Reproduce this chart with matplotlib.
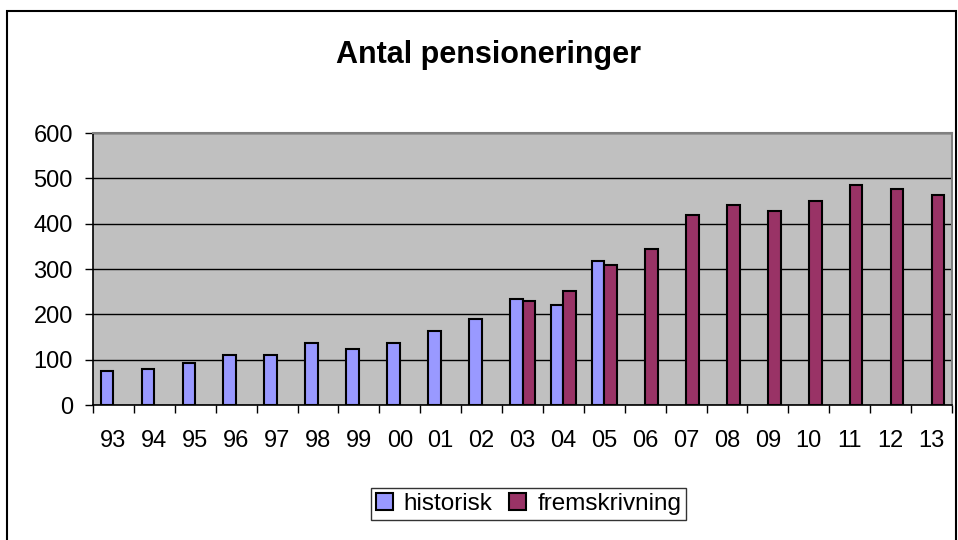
import matplotlib
matplotlib.use("Agg")
import matplotlib.pyplot as plt
import numpy as np
from matplotlib.patches import Rectangle

years = ["93", "94", "95", "96", "97", "98", "99", "00", "01", "02", "03",
         "04", "05", "06", "07", "08", "09", "10", "11", "12", "13"]
historisk = [75, 80, 93, 110, 110, 137, 124, 137, 163, 190, 234, 221, 318,
             None, None, None, None, None, None, None, None]
fremskrivning = [None, None, None, None, None, None, None, None, None, None,
                 230, 252, 309, 345, 420, 442, 429, 451, 486, 477, 464]

plt.rcParams['font.family'] = ['Liberation Sans', 'DejaVu Sans']

fig = plt.figure(figsize=(9.58, 5.4), dpi=100)
fig.patch.set_facecolor('white')
ax = fig.add_axes([93/958, 1-405/540, (952-93)/958, (405-133)/540])
ax.set_facecolor('#C0C0C0')

x = np.arange(len(years))
w = 0.31
hx = [xi for xi, v in zip(x, historisk) if v is not None]
hv = [v for v in historisk if v is not None]
fx = [xi for xi, v in zip(x, fremskrivning) if v is not None]
fv = [v for v in fremskrivning if v is not None]
ax.bar(np.array(hx) - w/2, hv, width=w, color='#9999FF', edgecolor='black',
       linewidth=1.5, label='historisk', zorder=3)
ax.bar(np.array(fx) + w/2, fv, width=w, color='#993366', edgecolor='black',
       linewidth=1.5, label='fremskrivning', zorder=3)

ax.set_xlim(-0.5, len(years) - 0.5)
ax.set_ylim(0, 600)
ax.set_yticks(range(0, 601, 100))
ax.yaxis.grid(True, color='black', linewidth=1, zorder=1)
ax.set_axisbelow(True)

ax.set_xticks(x)
ax.set_xticklabels(years)
ax.set_xticks(np.arange(-0.5, len(years)), minor=True)
ax.tick_params(axis='x', which='major', length=0, pad=18, labelsize=17)
ax.tick_params(axis='x', which='minor', length=6, width=1, direction='out', color='black')
ax.tick_params(axis='y', length=5.5, width=1, direction='out', pad=9, labelsize=17)

for s in ['top', 'right']:
    ax.spines[s].set_color('#808080')
    ax.spines[s].set_linewidth(1.5)
for s in ['left', 'bottom']:
    ax.spines[s].set_color('black')
    ax.spines[s].set_linewidth(1.2)

fig.text(489/958, 1-63/540, 'Antal pensioneringer', ha='center', va='baseline',
         fontsize=22, fontweight='bold')

leg = fig.legend(loc='center', bbox_to_anchor=(528.5/958, 1-504/540),
                 fontsize=17.5, frameon=True, fancybox=False, handlelength=0.7,
                 handleheight=0.7, handletextpad=0.45, columnspacing=0.7,
                 ncol=2, borderpad=0.2, borderaxespad=0)
leg.get_frame().set_edgecolor('black')
leg.get_frame().set_linewidth(1)

fig.patches.append(Rectangle((7/958, -0.05), (956-7)/958, (1-11/540)+0.05,
                             transform=fig.transFigure, fill=False,
                             edgecolor='black', linewidth=1.5))

fig.savefig('out.png', dpi=100)
